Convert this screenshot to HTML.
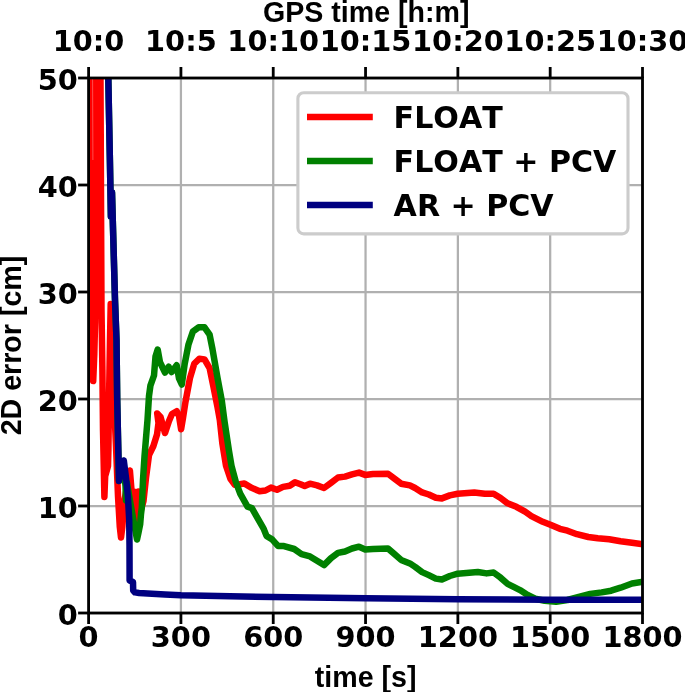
<!DOCTYPE html>
<html lang="en"><head><meta charset="utf-8"><title>2D error vs time</title>
<style>html,body{margin:0;padding:0;background:#fff;}svg{display:block;}text{font-kerning:none;}.dj{font-family:"DejaVu Sans","Liberation Sans",sans-serif;font-weight:bold;font-size:28.8px;fill:#000;}.lb{font-family:"Liberation Sans","DejaVu Sans",sans-serif;font-weight:bold;font-size:28.6px;fill:#000;}</style></head><body>
<svg width="685" height="692" viewBox="0 0 685 692">
<rect x="0" y="0" width="685" height="692" fill="#ffffff"/>
<defs><clipPath id="ax"><rect x="88.6" y="78.0" width="553.9" height="535.0"/></clipPath></defs>
<g stroke="#b0b0b0" stroke-width="2.25" fill="none">
<line x1="88.60" y1="78.0" x2="88.60" y2="613.0"/>
<line x1="180.92" y1="78.0" x2="180.92" y2="613.0"/>
<line x1="273.23" y1="78.0" x2="273.23" y2="613.0"/>
<line x1="365.55" y1="78.0" x2="365.55" y2="613.0"/>
<line x1="457.87" y1="78.0" x2="457.87" y2="613.0"/>
<line x1="550.18" y1="78.0" x2="550.18" y2="613.0"/>
<line x1="642.50" y1="78.0" x2="642.50" y2="613.0"/>
<line x1="88.6" y1="613.00" x2="642.5" y2="613.00"/>
<line x1="88.6" y1="506.00" x2="642.5" y2="506.00"/>
<line x1="88.6" y1="399.00" x2="642.5" y2="399.00"/>
<line x1="88.6" y1="292.00" x2="642.5" y2="292.00"/>
<line x1="88.6" y1="185.00" x2="642.5" y2="185.00"/>
<line x1="88.6" y1="78.00" x2="642.5" y2="78.00"/>
</g>
<g clip-path="url(#ax)" fill="none" stroke-width="6.5" stroke-linejoin="round" stroke-linecap="butt">
<polyline stroke="#ff0000" points="91.5,60.0 92.4,200.0 93.2,381.0 94.3,354.0 95.1,322.0 95.4,290.0 95.5,60.0 98.0,60.0 100.4,60.0 101.5,310.0 102.4,370.0 103.0,430.0 104.4,497.0 105.2,476.0 108.0,466.0 108.4,450.0 109.0,400.0 110.0,340.0 110.7,304.0 113.0,380.0 116.0,446.0 118.0,496.0 119.8,527.0 121.0,537.5 122.3,527.0 124.5,500.0 129.9,470.5 131.5,490.0 133.2,506.0 135.3,492.0 137.0,520.0 138.5,491.5 140.0,513.0 143.5,501.0 146.0,478.0 149.0,455.0 150.5,452.0 153.4,446.0 157.0,434.6 158.5,423.0 157.2,413.4 160.5,417.0 165.0,433.0 169.0,421.0 172.0,414.0 176.7,411.2 179.0,416.0 181.1,429.3 183.0,418.0 185.5,401.8 189.9,378.4 194.2,363.8 199.3,358.7 204.5,359.4 209.6,368.2 213.2,385.7 217.6,407.6 219.8,420.0 222.4,443.8 226.0,465.7 230.4,478.8 234.8,484.7 237.3,484.8 244.4,483.4 251.0,487.6 259.6,491.2 265.5,490.5 271.0,487.6 277.0,489.8 283.0,486.9 289.7,485.8 295.0,482.2 300.5,484.2 304.7,486.0 310.0,483.7 317.0,485.4 324.0,488.0 331.0,482.8 338.0,477.5 345.0,476.6 352.0,474.4 359.0,472.6 365.2,474.9 373.0,474.0 388.0,473.7 394.1,478.4 401.1,483.7 409.9,485.4 415.1,488.0 422.1,492.4 428.8,494.5 435.8,497.7 441.9,498.4 449.8,495.4 457.7,493.7 474.3,492.4 484.8,493.7 493.6,493.7 500.6,498.0 507.6,503.3 516.4,506.8 525.1,511.7 531.4,516.1 542.8,521.8 550.4,524.7 559.9,528.8 567.4,530.7 576.9,534.2 588.3,537.0 597.8,538.3 609.2,539.3 620.6,541.2 632.0,542.7 643.0,544.2"/>
<line x1="92.6" y1="79" x2="92.9" y2="160" stroke="#ff7070" stroke-width="0.7"/>
<polyline stroke="#008000" points="107.8,60.0 108.3,78.0 109.9,160.0 110.9,216.5 112.0,192.5 113.9,260.0 115.0,300.0 116.5,340.0 117.2,400.0 118.2,446.0 119.0,481.0 123.0,461.0 125.5,486.0 126.0,500.5 126.9,482.5 129.2,496.0 133.2,519.0 135.8,533.0 137.0,539.5 138.4,533.0 140.2,524.0 141.0,514.0 141.8,507.6 143.0,480.0 144.5,456.5 147.5,420.0 149.0,396.0 150.4,385.7 154.0,375.5 155.5,356.5 157.7,349.5 160.0,362.3 165.0,372.5 168.7,366.7 171.6,372.0 176.7,365.3 179.0,378.4 181.8,384.5 184.7,363.8 188.4,344.8 192.8,331.7 198.6,327.3 204.5,327.3 209.6,334.6 212.5,349.2 217.6,378.4 221.7,400.0 224.6,421.9 229.0,451.0 231.5,465.8 235.8,481.9 240.2,493.6 247.5,506.7 251.9,508.2 257.7,518.4 263.6,528.6 266.5,535.9 272.3,539.6 278.2,546.1 284.0,546.1 294.2,549.0 301.5,554.2 310.0,556.4 317.0,560.7 324.0,565.1 331.0,558.1 338.0,552.9 345.0,551.5 352.0,548.5 359.0,546.7 365.2,549.4 373.0,549.0 388.0,548.5 394.1,553.7 401.1,559.9 409.9,563.4 415.1,566.9 422.1,572.1 428.8,575.1 435.8,578.6 441.9,579.5 449.8,576.0 457.7,573.7 477.8,572.0 486.6,573.4 493.6,572.5 500.6,577.7 507.6,583.9 514.6,587.4 520.0,590.1 527.6,594.9 535.2,598.7 544.7,600.7 556.1,601.8 567.4,600.0 578.8,596.8 590.2,593.9 601.6,592.4 611.1,590.7 620.6,587.7 632.0,583.5 643.0,581.8"/>
<polyline stroke="#000080" points="107.8,60.0 108.3,78.0 109.9,160.0 110.9,216.5 112.0,192.5 113.9,260.0 115.0,300.0 116.5,340.0 117.2,400.0 118.2,446.0 119.0,481.0 123.8,460.5 126.0,478.0 127.9,496.0 129.2,520.0 129.5,545.0 129.6,580.5 133.0,582.0 133.2,590.5 135.0,592.4 139.0,593.0 165.0,594.5 181.0,595.3 230.0,596.3 273.0,597.0 366.0,598.3 458.0,599.3 550.0,599.8 643.0,599.8"/>
</g>
<g stroke="#000" stroke-width="2.8" fill="none">
<line x1="88.60" y1="613.0" x2="88.60" y2="624.0"/>
<line x1="88.60" y1="78.0" x2="88.60" y2="67.0"/>
<line x1="180.92" y1="613.0" x2="180.92" y2="624.0"/>
<line x1="180.92" y1="78.0" x2="180.92" y2="67.0"/>
<line x1="273.23" y1="613.0" x2="273.23" y2="624.0"/>
<line x1="273.23" y1="78.0" x2="273.23" y2="67.0"/>
<line x1="365.55" y1="613.0" x2="365.55" y2="624.0"/>
<line x1="365.55" y1="78.0" x2="365.55" y2="67.0"/>
<line x1="457.87" y1="613.0" x2="457.87" y2="624.0"/>
<line x1="457.87" y1="78.0" x2="457.87" y2="67.0"/>
<line x1="550.18" y1="613.0" x2="550.18" y2="624.0"/>
<line x1="550.18" y1="78.0" x2="550.18" y2="67.0"/>
<line x1="642.50" y1="613.0" x2="642.50" y2="624.0"/>
<line x1="642.50" y1="78.0" x2="642.50" y2="67.0"/>
<line x1="88.6" y1="613.00" x2="78.1" y2="613.00"/>
<line x1="88.6" y1="506.00" x2="78.1" y2="506.00"/>
<line x1="88.6" y1="399.00" x2="78.1" y2="399.00"/>
<line x1="88.6" y1="292.00" x2="78.1" y2="292.00"/>
<line x1="88.6" y1="185.00" x2="78.1" y2="185.00"/>
<line x1="88.6" y1="78.00" x2="78.1" y2="78.00"/>
<rect x="88.6" y="78.0" width="553.9" height="535.0"/>
</g>
<g class="dj" text-anchor="middle">
<text x="88.6" y="646.9">0</text>
<text x="180.9" y="646.9">300</text>
<text x="273.2" y="646.9">600</text>
<text x="365.5" y="646.9">900</text>
<text x="457.9" y="646.9">1200</text>
<text x="550.2" y="646.9">1500</text>
<text x="642.5" y="646.9">1800</text>
<text x="88.6" y="50.5">10:0</text>
<text x="180.9" y="50.5">10:5</text>
<text x="273.2" y="50.5">10:10</text>
<text x="365.5" y="50.5">10:15</text>
<text x="457.9" y="50.5">10:20</text>
<text x="550.2" y="50.5">10:25</text>
<text x="642.5" y="50.5">10:30</text>
</g>
<g class="dj" text-anchor="end">
<text x="77.9" y="625.2">0</text>
<text x="77.9" y="518.2">10</text>
<text x="77.9" y="411.2">20</text>
<text x="77.9" y="304.2">30</text>
<text x="77.9" y="197.2">40</text>
<text x="77.9" y="90.2">50</text>
</g>
<text class="lb" text-anchor="middle" x="365.6" y="687">time [s]</text>
<text class="lb" text-anchor="middle" x="366.2" y="22.2">GPS time [h:m]</text>
<text class="lb" text-anchor="middle" transform="translate(20.6,345.5) rotate(-90)">2D error [cm]</text>
<rect x="297.9" y="92.7" width="330.1" height="141.2" rx="5.8" ry="5.8" fill="#ffffff" stroke="#cccccc" stroke-width="3.1"/>
<line x1="307" y1="117.1" x2="372.8" y2="117.1" stroke="#ff0000" stroke-width="6.5"/>
<text class="dj" style="font-size:30.1px" x="393.6" y="127.9">FLOAT</text>
<line x1="307" y1="161" x2="372.8" y2="161" stroke="#008000" stroke-width="6.5"/>
<text class="dj" style="font-size:30.1px" x="393.6" y="171.8">FLOAT + PCV</text>
<line x1="307" y1="205" x2="372.8" y2="205" stroke="#000080" stroke-width="6.5"/>
<text class="dj" style="font-size:30.1px" x="393.6" y="215.8">AR + PCV</text>
</svg></body></html>
